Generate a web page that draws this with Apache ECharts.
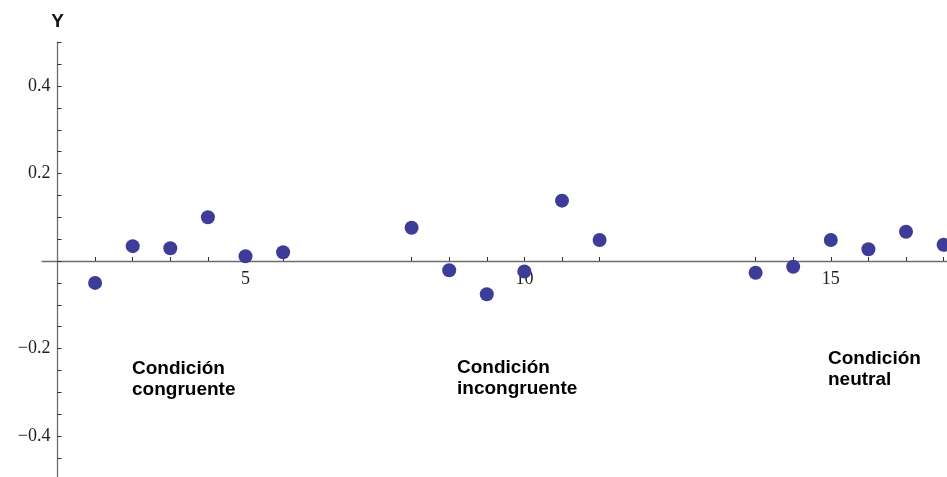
<!DOCTYPE html>
<html>
<head>
<meta charset="utf-8">
<script src="https://cdn.jsdelivr.net/npm/echarts@6/dist/echarts.min.js"></script>
<style>
  html, body { margin: 0; padding: 0; background: #fff; }
  #chart { width: 947px; height: 477px; }
</style>
</head>
<body>
<div id="chart"></div>
<script>
// data, one array per condition
const xCongruente = [1, 2, 3, 4, 5, 6];
const yCongruente = [-0.050, 0.034, 0.029, 0.100, 0.011, 0.020];
const xIncongruente = [7, 8, 9, 10, 11, 12];
const yIncongruente = [0.076, -0.021, -0.076, -0.024, 0.138, 0.048];
const xNeutral = [13, 14, 15, 16, 17, 18];
const yNeutral = [-0.027, -0.013, 0.048, 0.027, 0.067, 0.037];

const xTickLabels = [[5], [10], [15]];
const yTickLabels = [-0.4, -0.2, 0.2, 0.4];
const labels = ['Condición\ncongruente', 'Condición\nincongruente', 'Condición\nneutral'];

// layout: each condition gets its own strip of the axis
const unit = 37.6;
const plotTop = 42.25, plotH = 437.5, yMin = -0.5, yMax = 0.5;
const zeroPx = plotTop + plotH * yMax / (yMax - yMin);
const yAxisPx = 57.5;
const panels = [
  { x0: yAxisPx, from: 42, to: 302, xs: xCongruente, ys: yCongruente },
  { x0: 148.4, from: 302, to: 618, xs: xIncongruente, ys: yIncongruente },
  { x0: 266.8, from: 618, to: 947, xs: xNeutral, ys: yNeutral },
];
const labelPos = [[132, 358], [457, 357], [828, 348]];

const axisColor = '#6e6e6e';
const tickFont = { fontFamily: 'Liberation Serif', fontSize: 18, color: '#222' };

const chart = echarts.init(document.getElementById('chart'));

const grid = [], xAxis = [], yAxis = [], series = [];
panels.forEach((p, i) => {
  grid.push({
    left: p.from, width: p.to - p.from, top: plotTop, height: plotH,
    containLabel: false, outerBoundsMode: 'none',
  });
  xAxis.push({
    type: 'value',
    gridIndex: i,
    position: 'bottom',
    offset: -(plotTop + plotH - zeroPx),
    min: (p.from - p.x0) / unit,
    max: (p.to - p.x0) / unit,
    axisLine: { onZero: false, lineStyle: { color: axisColor, width: 1.3 } },
    axisTick: { inside: true, length: 4, customValues: p.xs, lineStyle: { color: '#333' } },
    axisLabel: { customValues: xTickLabels[i], margin: 9, ...tickFont },
    splitLine: { show: false },
  });
  yAxis.push({
    type: 'value',
    gridIndex: i,
    show: i === 0,
    position: 'left',
    offset: -(yAxisPx - p.from),
    min: yMin,
    max: yMax,
    interval: 0.05,
    name: i === 0 ? 'Y' : '',
    nameLocation: 'end',
    nameGap: 11,
    nameTextStyle: { fontFamily: 'Liberation Sans', fontWeight: 'bold', fontSize: 19, color: '#111', align: 'center' },
    axisLine: { show: true, onZero: false, lineStyle: { color: axisColor, width: 1.3 } },
    axisTick: { inside: true, length: 4, lineStyle: { color: '#333' } },
    axisLabel: {
      customValues: yTickLabels,
      margin: 7,
      ...tickFont,
      formatter: (v) => (v < 0 ? '\u2212' : '') + Math.abs(v).toFixed(1),
    },
    splitLine: { show: false },
  });
  series.push({
    type: 'scatter',
    xAxisIndex: i,
    yAxisIndex: i,
    symbolSize: 14,
    itemStyle: { color: '#3d3d99', opacity: 1 },
    data: p.xs.map((x, k) => [x, p.ys[k]]),
  });
});

chart.setOption({
  backgroundColor: '#fff',
  animation: false,
  grid,
  xAxis,
  yAxis,
  series,
  graphic: labels.map((t, i) => ({
    type: 'text',
    left: labelPos[i][0],
    top: labelPos[i][1],
    style: {
      text: t,
      font: 'bold 19px "Liberation Sans"',
      lineHeight: 21,
      fill: '#000',
    },
  })),
});
</script>
</body>
</html>
